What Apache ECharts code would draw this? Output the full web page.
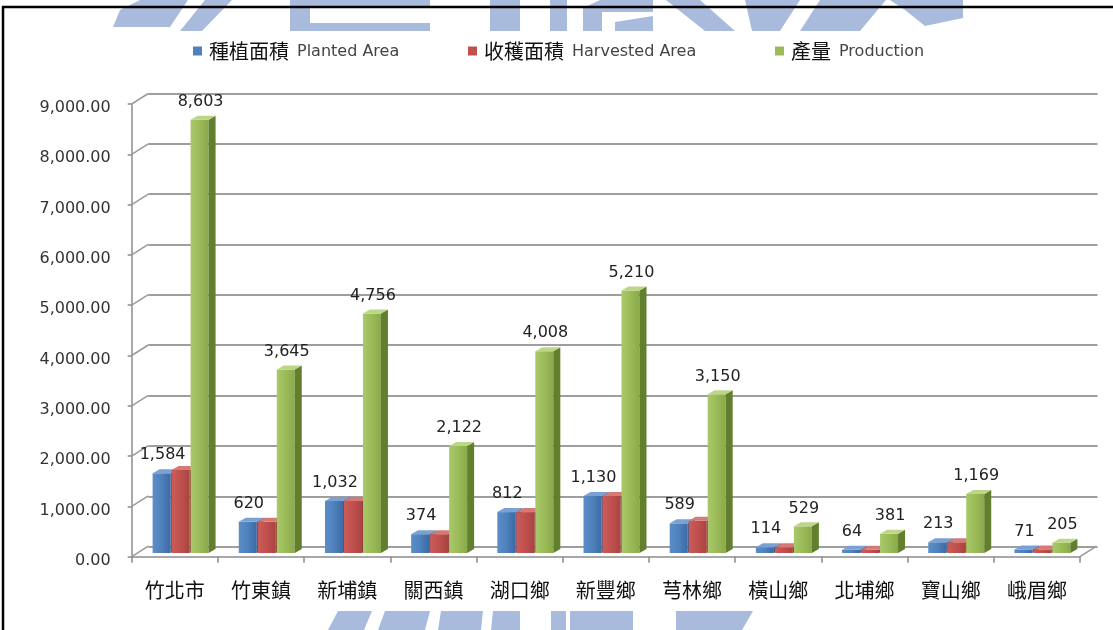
<!DOCTYPE html>
<html><head><meta charset="utf-8">
<script src="https://cdn.jsdelivr.net/npm/echarts@6/dist/echarts.min.js"></script>
<style>html,body{margin:0;padding:0;background:#fff}#c{width:1113px;height:630px}</style>
</head><body><div id="c"></div>
<script>
// ---- data ----
const categories = ['竹北市','竹東鎮','新埔鎮','關西鎮','湖口鄉','新豐鄉','芎林鄉','橫山鄉','北埔鄉','寶山鄉','峨眉鄉'];
const plantedArea = [1584, 620, 1032, 374, 812, 1130, 589, 114, 64, 213, 71];
const harvestedArea = [1650, 620, 1032, 374, 812, 1130, 640, 114, 64, 213, 71];
const production = [8603, 3645, 4756, 2122, 4008, 5210, 3150, 529, 381, 1169, 205];
const yTicks = [0, 1000, 2000, 3000, 4000, 5000, 6000, 7000, 8000, 9000];
const seriesNames = ['種植面積 Planted Area', '收穫面積 Harvested Area', '產量 Production'];

// ---- styles ----
const palettes = [
  {main:'#4f81bd', light:'#5b8dc9', dark:'#3c6aa3', side:'#36598a', top:'#7aa1d3'},
  {main:'#c0504d', light:'#cc5c59', dark:'#a94441', side:'#8e3532', top:'#d57a77'},
  {main:'#9bbb59', light:'#a9c96a', dark:'#8aa94b', side:'#627f2e', top:'#bcd687'}
];
const NUM_FONT = 'DejaVu Sans';
const CJK_FONT = 'Noto Sans CJK TC';
const DEPTH_X = 16.6, DEPTH_Y = 10.5;

function fmtInt(v){ return Math.round(v).toLocaleString('en-US'); }

function makeBarRender(k, pal, showLabel){
  return function(params, api){
    const i = api.value(0), v = api.value(1);
    const p0 = api.coord([i, 0]), p1 = api.coord([i, v]);
    const band = api.size([1, 0])[0];
    const w = band * 0.2088, step = band * 0.2204;
    const x = p0[0] + (k - 1) * step - w / 2;
    const yb = p0[1], yt = p1[1];
    const dx = 7, dy = 4;
    const children = [
      {type:'rect', shape:{x:x, y:yt, width:w, height:yb - yt},
        style:{fill:new echarts.graphic.LinearGradient(0,0,1,0,[
          {offset:0, color:pal.light},{offset:0.5, color:pal.main},{offset:1, color:pal.dark}])}},
      {type:'polygon', shape:{points:[[x+w,yt],[x+w+dx,yt-dy],[x+w+dx,yb-dy],[x+w,yb]]},
        style:{fill:pal.side}},
      {type:'polygon', shape:{points:[[x,yt],[x+dx,yt-dy],[x+w+dx,yt-dy],[x+w,yt]]},
        style:{fill:pal.top}}
    ];
    if (showLabel) {
      children.push({type:'text', style:{text:fmtInt(v), x:x + w/2 + 1, y:yt - 10,
        align:'center', verticalAlign:'bottom', fill:'#222',
        font:'16px "' + NUM_FONT + '"'}});
    }
    return {type:'group', children:children};
  };
}

function wallConnectors(params, api){
  const cs = params.coordSys;
  const v = api.value(1);
  const y = api.coord([0, v])[1];
  const st = {stroke:'#9a9a9a', lineWidth:1.5, fill:null};
  const ch = [{type:'line', shape:{x1:cs.x, y1:y, x2:cs.x + DEPTH_X, y2:y - DEPTH_Y}, style:st}];
  if (v === 0) {
    const xr = cs.x + cs.width;
    ch.push({type:'line', shape:{x1:xr, y1:y, x2:xr + DEPTH_X, y2:y - DEPTH_Y}, style:st});
  }
  return {type:'group', children:ch};
}

const valuesList = [plantedArea, harvestedArea, production];
const legendLefts = [188, 463, 770];

// watermark shapes (approximate)
const wm = '#a9bbdd';
function poly(pts){ return {type:'polygon', z:-10, shape:{points:pts}, style:{fill:wm}}; }
const watermark = [
  poly([[140,0],[188,0],[170,27],[113,27],[120,10]]),
  poly([[205,0],[232,0],[202,31],[180,31]]),
  poly([[290,0],[430,0],[430,8],[310,8],[310,23],[430,23],[430,31],[290,31]]),
  poly([[490,0],[520,0],[520,31],[490,31]]),
  poly([[550,0],[567,0],[567,31],[550,31]]),
  poly([[583,8],[600,0],[653,0],[653,12],[602,12],[602,31],[583,31]]),
  poly([[615,22],[653,16],[653,31],[615,31]]),
  poly([[666,0],[700,0],[735,31],[705,31]]),
  poly([[745,0],[800,0],[780,31],[752,31]]),
  poly([[820,0],[886,0],[860,31],[800,31]]),
  poly([[890,0],[963,0],[963,18],[925,26],[905,10]]),
  poly([[338,611],[372,611],[364,630],[328,630]]),
  poly([[385,611],[430,611],[425,630],[378,630]]),
  poly([[441,611],[483,611],[481,630],[438,630]]),
  poly([[493,611],[520,611],[520,630],[491,630]]),
  poly([[551,611],[566,611],[566,630],[551,630]]),
  poly([[570,611],[633,611],[633,630],[570,630]]),
  poly([[676,611],[753,611],[742,630],[676,630]])
];

const option = {
  animation:false,
  backgroundColor:'#ffffff',
  graphic: watermark.concat([
    {type:'rect', z:100, shape:{x:3, y:7, width:1300, height:800},
      style:{fill:null, stroke:'#000', lineWidth:2.5}}
  ]),
  legend: seriesNames.map((n, k) => ({
    data:[n], left:legendLefts[k], top:36, icon:'rect', itemWidth:9, itemHeight:9,
    itemGap:0, selectedMode:false,
    formatter: function(name){ const s = name.indexOf(' ');
      return '{zh|' + name.slice(0, s) + '}{en|' + name.slice(s + 1) + '}'; },
    textStyle:{rich:{
      zh:{fontFamily:CJK_FONT, fontSize:20, color:'#111', padding:[0,0,0,2]},
      en:{fontFamily:NUM_FONT, fontSize:16, color:'#444', padding:[2,0,0,8]}
    }}
  })),
  grid: [
    {left:131.7, right:33, top:104, bottom:73.3},
    {left:148.3, right:15.5, top:93.3, bottom:83.3},
    {left:137.5, right:27.5, top:99.7, bottom:77}
  ],
  xAxis: [
    {type:'category', gridIndex:0, data:categories,
      axisLine:{lineStyle:{color:'#8c8c8c', width:1.5}},
      axisTick:{show:true, length:6, lineStyle:{color:'#8c8c8c', width:1.5}},
      axisLabel:{margin:24, fontFamily:CJK_FONT, fontSize:20, color:'#111', interval:0}},
    {type:'category', gridIndex:1, data:categories, show:false},
    {type:'category', gridIndex:2, data:categories, show:false}
  ],
  yAxis: [
    {type:'value', gridIndex:0, min:0, max:9000, interval:1000,
      axisLine:{show:true, lineStyle:{color:'#8c8c8c', width:1.5}},
      axisTick:{show:true, length:4, lineStyle:{color:'#8c8c8c', width:1.5}},
      splitLine:{show:false},
      axisLabel:{margin:21, fontFamily:NUM_FONT, fontSize:16, color:'#333',
        verticalAlign:'top', lineHeight:8,
        formatter: v => v.toLocaleString('en-US', {minimumFractionDigits:2, maximumFractionDigits:2})}},
    {type:'value', gridIndex:1, min:0, max:9000, interval:1000,
      axisLine:{show:false}, axisTick:{show:false}, axisLabel:{show:false},
      splitLine:{show:true, lineStyle:{color:'#9e9e9e', width:2}}},
    {type:'value', gridIndex:2, min:0, max:9000, interval:1000, show:false}
  ],
  series: [
    {type:'custom', name:'wall', xAxisIndex:0, yAxisIndex:0, z:1, silent:true,
      data: yTicks.map(v => [0, v]), renderItem: wallConnectors, encode:{x:0, y:1}},
  ].concat(seriesNames.map((n, k) => ({
    type:'custom', name:n, xAxisIndex:2, yAxisIndex:2, z:5,
    itemStyle:{color:palettes[k].main},
    data: categories.map((c, i) => [i, valuesList[k][i]]),
    encode:{x:0, y:1},
    renderItem: makeBarRender(k, palettes[k], k !== 1)
  })))
};

const chart = echarts.init(document.getElementById('c'), null, {renderer:'canvas'});
chart.setOption(option);
</script>
</body></html>
